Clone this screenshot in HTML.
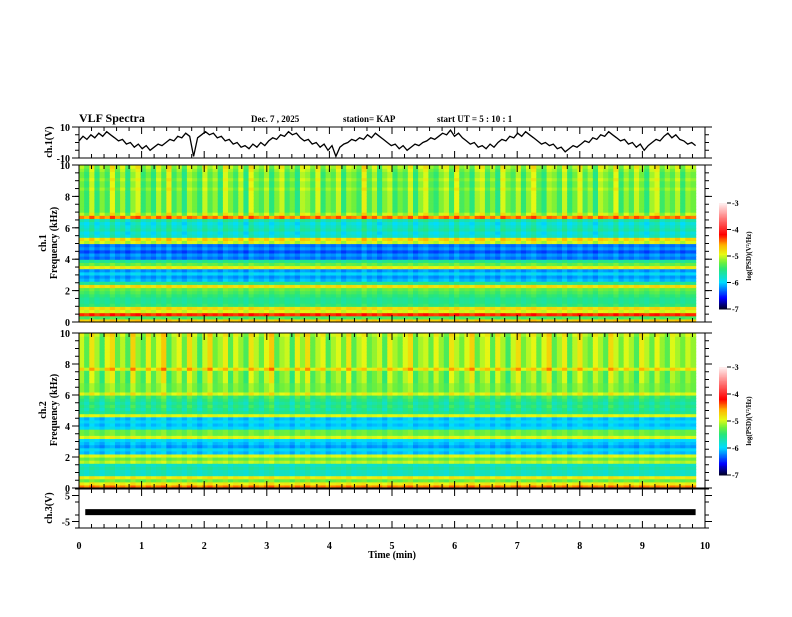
<!DOCTYPE html>
<html><head><meta charset="utf-8"><style>
body{margin:0;background:#fff;}
svg text{font-family:"Liberation Serif",serif;font-weight:bold;fill:#000;}
</style></head><body>
<svg id="chart" width="792" height="612" viewBox="0 0 792 612" xmlns="http://www.w3.org/2000/svg">
<rect width="792" height="612" fill="#fff"/>
<text x="79" y="122" font-size="12">VLF Spectra</text>
<text x="251" y="122" font-size="9">Dec. 7  , 2025</text>
<text x="343" y="122" font-size="9">station= KAP</text>
<text x="437" y="122" font-size="9">start  UT  =   5  : 10 : 1</text>
<g id="g1"></g>
<g id="g2"></g>
<g id="g3"></g>
<g id="g4"></g>
<g id="axes"></g>
</svg>
<script>
// ---- data ----
const timeTicks=[0,1,2,3,4,5,6,7,8,9,10];
const freqTicks=[0,2,4,6,8,10];
const cbTicks=[-3,-4,-5,-6,-7];
// ch.1 waveform (V), evenly spaced over 0..9.85 min
const ch1=[1,4,2,5,3,6,4,7,5,3,1,2,-1,0,-3,-1,-4,-2,-5,-3,-1,-2,0,2,1,4,3,6,4,-9,3,5,7,5,6,3,4,1,2,-1,0,-3,-2,-4,-1,-3,0,-2,1,3,2,5,4,7,5,6,3,1,2,-1,0,-3,-1,-5,-2,-9,-3,-1,0,2,1,3,2,5,3,6,4,2,0,-2,-1,-4,-2,-5,-3,-1,-2,0,1,3,2,4,6,5,8,4,6,3,1,-1,0,-3,-2,-4,-1,-3,0,2,1,4,3,6,4,7,5,3,1,-1,0,-2,-1,-4,-3,-6,-4,-2,-3,-1,1,0,3,2,5,4,7,5,3,1,2,-1,0,-3,-1,-5,-2,0,2,1,4,6,3,5,2,1,-1,0,-2];
const ch3Level=-1.4;
// log PSD profile per 0.2 kHz bin (bin 0 = 0-0.2 kHz ... bin 49 = 9.8-10 kHz)
const prof1=[-4.7,-5.4,-4.3,-5.0,-4.8,-5.5,-5.6,-5.6,-5.5,-5.4,-5.3,-4.8,-5.6,-6.1,-6.2,-6.0,-6.2,-4.9,-5.3,-5.6,-6.3,-6.2,-6.4,-6.2,-6.3,-5.0,-4.8,-5.8,-5.9,-5.7,-5.8,-5.9,-5.7,-4.5,-5.1,-5.3,-5.3,-5.3,-5.3,-5.3,-5.3,-5.3,-5.2,-5.3,-5.3,-5.2,-5.3,-5.3,-5.2,-5.1];
const prof2=[-4.5,-4.9,-5.3,-4.9,-5.8,-5.8,-5.7,-5.8,-5.1,-5.3,-5.0,-6.1,-6.0,-6.2,-6.1,-6.0,-5.0,-5.3,-5.3,-6.0,-6.1,-6.0,-6.1,-5.0,-5.6,-5.7,-5.6,-5.7,-5.6,-5.5,-5.0,-5.3,-5.3,-5.3,-5.3,-5.3,-5.3,-5.3,-4.9,-5.2,-5.2,-5.2,-5.2,-5.2,-5.2,-5.2,-5.2,-5.2,-5.2,-5.1];
// time-streak modulation per time column (120 columns)
const streak1=[0.1,-0.4,0.6,-0.5,0.2,-0.3,0.8,-0.2,0.4,-0.6,0.3,0.7,-0.4,0.1,-0.5,0.5,-0.2,0.9,-0.3,0.2,-0.6,0.4,0.1,-0.4,0.6,-0.1,0.3,-0.5,0.7,0.2,-0.3,0.5,-0.6,0.8,0.1,-0.2,0.4,-0.5,0.2,0.6,-0.3,0.1,-0.6,0.5,0.3,-0.2,0.7,-0.4,0.2,-0.1,0.6,-0.5,0.3,0.1,-0.3,0.9,-0.2,0.4,-0.6,0.2,0.5,-0.4,0.1,-0.2,0.6,-0.5,0.3,0.7,-0.1,-0.4,0.2,0.5,-0.3,0.8,-0.2,0.1,-0.5,0.4,0.6,-0.3,0.2,-0.6,0.7,0.1,-0.2,0.5,-0.4,0.3,0.8,-0.1,-0.5,0.4,0.2,-0.3,0.6,-0.4,0.1,0.7,-0.2,0.3,-0.6,0.5,0.2,-0.1,0.8,-0.4,0.3,-0.2,0.6,0.1,-0.5,0.4,0.7,-0.3,0.2,-0.1,0.5,-0.4,0.3,0.1];
const streak2=[0.4,-0.3,0.8,0.2,-0.5,0.6,0.9,-0.2,0.3,-0.4,1.0,0.1,-0.3,0.7,-0.1,0.5,1.1,-0.4,0.2,0.6,-0.2,0.9,0.3,-0.5,0.4,1.0,-0.1,0.2,0.7,-0.3,0.5,0.1,-0.4,0.8,0.3,-0.2,0.6,1.1,-0.3,0.2,0.4,-0.5,0.7,0.1,0.9,-0.2,0.3,0.6,-0.4,0.2,0.5,-0.1,0.8,-0.3,0.3,0.6,-0.2,0.1,0.4,-0.4,0.7,0.2,-0.1,0.5,0.9,-0.3,0.2,0.4,-0.2,0.6,0.1,-0.4,0.8,0.3,-0.1,0.5,1.0,-0.2,0.3,0.6,-0.3,0.7,0.2,-0.5,0.4,0.9,-0.1,0.3,0.6,-0.2,0.5,1.0,-0.3,0.2,0.7,-0.4,0.3,0.8,0.1,-0.2,0.6,0.2,-0.3,0.9,0.4,-0.1,0.5,0.2,-0.4,0.7,0.3,-0.2,0.6,0.1,-0.3,0.5,0.2,-0.1,0.4,0.1];
// ---- layout ----
const X0=79,X1=705;
const NS="http://www.w3.org/2000/svg";
function xs(t){return X0+(X1-X0)*t/10;}
function mk(tag,attrs,parent){const e=document.createElementNS(NS,tag);for(const k in attrs)e.setAttribute(k,attrs[k]);parent.appendChild(e);return e;}
const stops=[[-7,[0,0,40]],[-6.6,[0,0,255]],[-6.0,[0,220,255]],[-5.5,[40,230,120]],[-5.25,[110,240,60]],[-4.95,[230,250,20]],[-4.6,[255,180,0]],[-4.2,[255,0,0]],[-3.6,[255,120,120]],[-3,[255,245,245]]];
function cmap(v){if(v<=stops[0][0])return 'rgb('+stops[0][1]+')';for(let i=1;i<stops.length;i++){if(v<=stops[i][0]){const a=stops[i-1],b=stops[i],f=(v-a[0])/(b[0]-a[0]);return 'rgb('+a[1].map((c,j)=>Math.round(c+(b[1][j]-c)*f)).join(',')+')';}}return 'rgb('+stops[stops.length-1][1]+')';}
function weight(f){return f>=34?0.45:(f>=25?0.25:0.12);}
function spectro(g,prof,streak,yTop,yBot){
  const nT=streak.length,nF=prof.length,tMax=9.85;
  const ys=fk=>yBot-(yBot-yTop)*fk/10;
  for(let t=0;t<nT;t++){
    for(let f=0;f<nF;f++){
      const v=prof[f]+streak[t]*weight(f);
      const r=mk('rect',{x:xs(t*tMax/nT).toFixed(2),y:ys((f+1)*0.2).toFixed(2),width:(xs(tMax/nT)-X0+0.6).toFixed(2),height:((yBot-yTop)/nF+0.6).toFixed(2),fill:cmap(v)},g);
      
      
    }
  }
}
function frame(g,yTop,yBot,name){
  const r=mk('rect',{x:X0,y:yTop,width:X1-X0,height:yBot-yTop,fill:'none',stroke:'#000','stroke-width':1},g);
  
  
  for(let i=0;i<=50;i++){
    const x=X0+(X1-X0)*i/50,len=i%5==0?7:4;
    mk('line',{x1:x,y1:yTop,x2:x,y2:yTop+len,stroke:'#000'},g);
    mk('line',{x1:x,y1:yBot,x2:x,y2:yBot-len,stroke:'#000'},g);
  }
}
function yticks(g,yTop,yBot,labels,vmin,vmax,minorN){
  for(let i=0;i<=minorN;i++){const y=yBot-(yBot-yTop)*i/minorN;
    mk('line',{x1:X0-4,y1:y,x2:X0,y2:y,stroke:'#000'},g);
    mk('line',{x1:X1,y1:y,x2:X1+4,y2:y,stroke:'#000'},g);}
  labels.forEach(v=>{const y=yBot-(yBot-yTop)*(v-vmin)/(vmax-vmin);
    mk('line',{x1:X0-7,y1:y,x2:X0,y2:y,stroke:'#000'},g);
    mk('line',{x1:X1,y1:y,x2:X1+7,y2:y,stroke:'#000'},g);
    const t=mk('text',{x:X0-9,y:y+4,'font-size':10,'text-anchor':'end'},g);t.textContent=v;
    
    });
}
function ylabel(g,x,y,txt,lines){
  const t=mk('text',{transform:'translate('+x+','+y+') rotate(-90)','font-size':10,'text-anchor':'middle'},g);
  lines.forEach((l,i)=>{const s=mk('tspan',{x:0,dy:i?11:0},t);s.textContent=l;});
  
  
}
function colorbar(g,yTop,yBot){
  const bx=719,bw=8,n=80;
  for(let i=0;i<n;i++){const v=-7+4*i/n;const y=yBot-(yBot-yTop)*(i+1)/n;
    const r=mk('rect',{x:bx,y:y,width:bw,height:(yBot-yTop)/n+0.5,fill:cmap(v)},g);
    
    }
  cbTicks.forEach(v=>{const y=yBot-(yBot-yTop)*(v+7)/4;
    mk('line',{x1:bx+bw,y1:y,x2:bx+bw+4,y2:y,stroke:'#000'},g);
    const t=mk('text',{x:bx+bw+5,y:y+3,'font-size':8},g);t.textContent=v;
    
    });
  const t=mk('text',{transform:'translate(751,'+((yTop+yBot)/2)+') rotate(-90)','font-size':7,'text-anchor':'middle'},g);
  t.textContent='log(PSD)(V²/Hz)';
  
  
}
// ch1 panel
const g1=document.getElementById('g1');
const T1=127,B1=158;
const ych1=v=>B1-(B1-T1)*(v+10)/20;
const pts=ch1.map((v,i)=>xs(i*9.85/(ch1.length-1)).toFixed(1)+','+ych1(v).toFixed(1)).join(' ');
const pl=mk('polyline',{points:pts,fill:'none',stroke:'#000','stroke-width':1.3},g1);


frame(g1,T1,B1,'ch1-frame');
yticks(g1,T1,B1,[10,-10],-10,10,4);
ylabel(g1,52,142,'ch1-y-title',['ch.1(V)']);
// spectrograms
const T2=165,B2=322,T3=333,B3=488;
spectro(document.getElementById('g2'),prof1,streak1,T2,B2);
spectro(document.getElementById('g3'),prof2,streak2,T3,B3);
const ax=document.getElementById('axes');
frame(ax,T2,B2,'spectrogram1-frame');yticks(ax,T2,B2,freqTicks,0,10,20);
frame(ax,T3,B3,'spectrogram2-frame');yticks(ax,T3,B3,freqTicks,0,10,20);
ylabel(ax,46,243,'spectrogram1-y-title',['ch.1','Frequency (kHz)']);
ylabel(ax,46,410,'spectrogram2-y-title',['ch.2','Frequency (kHz)']);
colorbar(ax,203,309);colorbar(ax,367,475);
// ch3 panel
const g4=document.getElementById('g4');
const T4=489,B4=528;
const ych3=v=>B4-(B4-T4)*(v+7.5)/15;
const band=mk('rect',{x:xs(0.1),y:ych3(ch3Level)-3,width:xs(9.85)-xs(0.1),height:6,fill:'#000'},g4);


frame(g4,T4,B4,'ch3-frame');
yticks(g4,T4,B4,[5,-5],-7.5,7.5,3);
ylabel(g4,52,508,'ch3-y-title',['ch.3(V)']);
timeTicks.forEach(v=>{const t=mk('text',{x:xs(v),y:549,'font-size':10,'text-anchor':'middle'},g4);t.textContent=v;
  
  });
const xt=mk('text',{x:392,y:558,'font-size':10,'text-anchor':'middle'},g4);xt.textContent='Time  (min)';


</script>
</body></html>
